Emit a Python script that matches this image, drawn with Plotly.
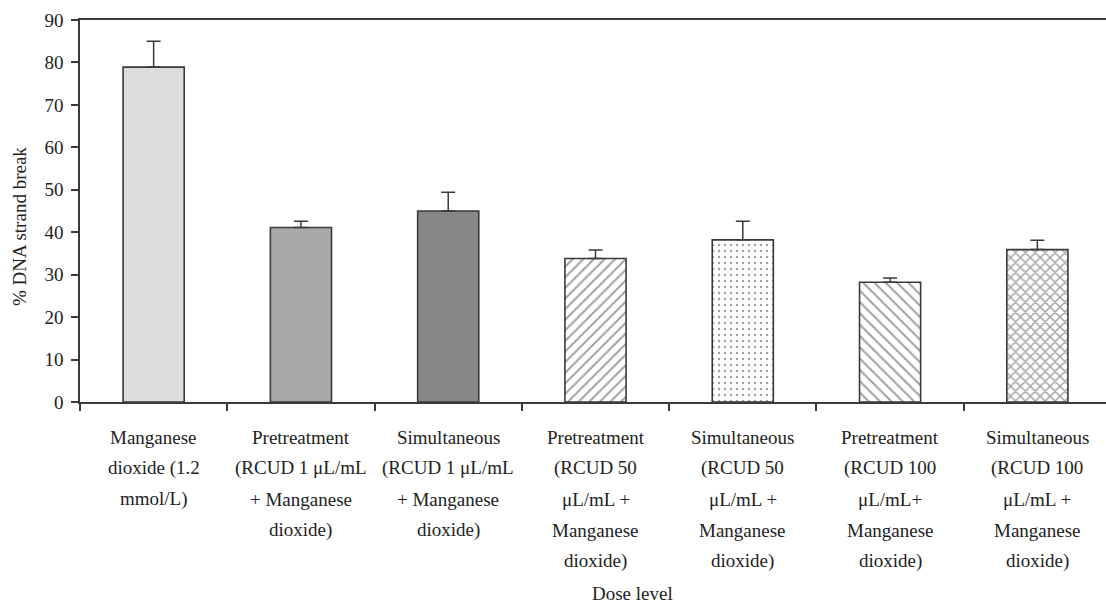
import plotly.graph_objects as go

# ---- data ----
label_lines = [
    ["Manganese", "dioxide (1.2", "mmol/L)"],
    ["Pretreatment", "(RCUD 1 μL/mL", "+ Manganese", "dioxide)"],
    ["Simultaneous", "(RCUD 1 μL/mL", "+ Manganese", "dioxide)"],
    ["Pretreatment", "(RCUD 50", "μL/mL +", "Manganese", "dioxide)"],
    ["Simultaneous", "(RCUD 50", "μL/mL +", "Manganese", "dioxide)"],
    ["Pretreatment", "(RCUD 100", "μL/mL+", "Manganese", "dioxide)"],
    ["Simultaneous", "(RCUD 100", "μL/mL +", "Manganese", "dioxide)"],
]
categories = [" ".join(l) for l in label_lines]
values = [78.9, 41.1, 45.0, 33.8, 38.2, 28.2, 35.9]
errors = [6.1, 1.5, 4.4, 2.0, 4.4, 1.0, 2.2]
fill_colors = ["#dcdcdc", "#a9a9a9", "#878787", "#ffffff", "#ffffff", "#ffffff", "#ffffff"]
patterns = ["", "", "", "/", ".", "\\", "x"]
y_ticks = [0, 10, 20, 30, 40, 50, 60, 70, 80, 90]
y_title = "% DNA strand break"
x_title = "Dose level"

FONT = "Liberation Serif, Times New Roman, serif"
TXT = "#222222"
LINE = "#3a3a3a"

fig = go.Figure()
fig.add_trace(go.Bar(
    x=categories,
    y=values,
    marker=dict(
        color=fill_colors,
        line=dict(color=LINE, width=1.6),
        pattern=dict(
            shape=patterns, fgcolor="#000000",
            size=[8, 8, 8, 7.5, 6, 8, 7],
            solidity=[0.2, 0.2, 0.2, 0.26, 0.14, 0.26, 0.38],
        ),
    ),
    error_y=dict(
        type="data", array=errors, arrayminus=[0] * len(errors), symmetric=False,
        color=LINE, thickness=1.5, width=7,
    ),
    showlegend=False,
))

# multi-line category labels with wide line spacing
line_offsets = [35, 66, 97, 128, 159]
for i, lines in enumerate(label_lines):
    for j, t in enumerate(lines):
        fig.add_annotation(
            x=i, xref="x", y=0, yref="paper",
            yshift=-line_offsets[j], yanchor="middle", xanchor="center",
            text=t, showarrow=False,
            font=dict(family=FONT, size=19, color=TXT),
        )

# x-axis title
fig.add_annotation(
    x=(80 + 1111) / 2 / 1106, xref="paper", y=0, yref="paper",
    yshift=-191, yanchor="middle", xanchor="center",
    text=x_title, showarrow=False,
    font=dict(family=FONT, size=19, color=TXT),
)

# y-axis title
fig.add_annotation(
    x=0, xref="paper", xshift=-61, y=0.5, yref="paper", yshift=-16,
    xanchor="center", yanchor="middle", textangle=-90,
    text=y_title, showarrow=False,
    font=dict(family=FONT, size=19, color=TXT),
)

fig.update_layout(
    width=1106, height=605,
    margin=dict(l=80, r=0, t=20, b=203),
    paper_bgcolor="white", plot_bgcolor="white",
    bargap=0.585,
    font=dict(family=FONT, size=19, color=TXT),
    xaxis=dict(
        type="category",
        range=[-0.5, 6.466],
        showticklabels=False,
        tickson="boundaries",
        ticks="outside", ticklen=7, tickwidth=1.5, tickcolor=LINE,
        showline=True, linecolor=LINE, linewidth=1.6,
        mirror=True,
        showgrid=False, zeroline=False,
    ),
    yaxis=dict(
        range=[0, 90],
        tickvals=y_ticks,
        ticks="outside", ticklen=7, tickwidth=1.5, tickcolor=LINE,
        showline=True, linecolor=LINE, linewidth=1.6,
        showgrid=False, zeroline=False,
        ticklabelstandoff=4,
        tickfont=dict(family=FONT, size=19, color=TXT),
    ),
)

fig.write_html("out.html")
